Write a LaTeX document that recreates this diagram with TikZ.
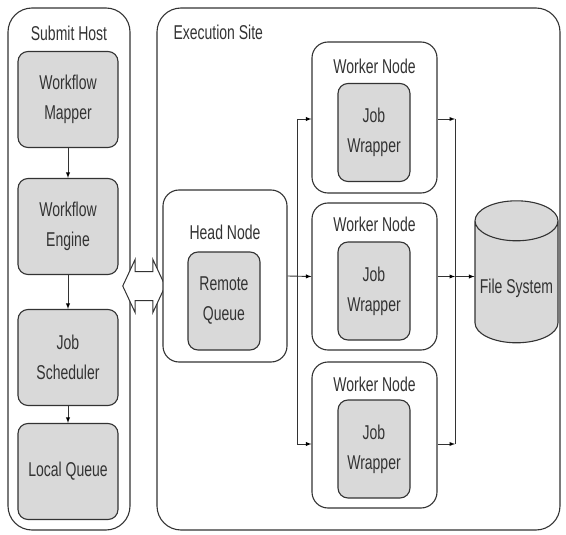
\documentclass[tikz,border=0pt]{standalone}
\usepackage{fontspec}
\setmainfont{Liberation Sans}[FakeStretch=0.7]
\usepackage{tikz}
\usetikzlibrary{arrows, shapes.geometric, shapes.arrows, positioning}
\definecolor{boxgray}{HTML}{D9D9D9}
\definecolor{linegray}{HTML}{333333}

\begin{document}
\begin{tikzpicture}[x=1pt, y=-1pt, >=latex,
        every node/.style={font=\fontsize{20}{30}\selectfont, text=linegray},
        frame/.style={draw=linegray, line width=1.1pt, rounded corners=24pt},
        holder/.style={draw=linegray, line width=1.1pt, rounded corners=16pt, fill=white},
        task/.style={draw=linegray, line width=1.1pt, rounded corners=10pt, fill=boxgray,
            align=center, minimum width=100pt, minimum height=96pt},
        inner/.style={task, minimum width=72pt, minimum height=98pt},
        flow/.style={draw=linegray, line width=0.9pt}]
                        \useasboundingbox (0, 0) rectangle (566, 535);
                        % the two sites
                        \node[frame, minimum width=122pt, minimum height=522pt] (submit) at (69, 269) {};
                        \node[frame, minimum width=403pt, minimum height=522pt] (site) at (358.5, 269) {};
                        \node (submitlbl) at (69, 33) {Submit Host};
                        \node[anchor=west] (sitelbl) at (170, 32) {Execution Site};
                        % submit host
                        \node[task] (mapper) at (68, 99.5) {Workflow\\Mapper};
                        \node[task] (engine) at (68, 226.5) {Workflow\\Engine};
                        \node[task] (sched) at (68, 357.5) {Job\\Scheduler};
                        \node[task] (lqueue) at (68, 471.5) {Local Queue};
                        \draw[flow]
                        (mapper) edge[->] (engine)
                        (engine) edge[->] (sched)
                        (sched) edge[->] (lqueue);
                        % link between the sites
                        \node[double arrow, draw=linegray, line width=1pt, fill=white, inner sep=14pt,
                            minimum height=38pt, double arrow head extend=12pt,
                            double arrow tip angle=130] (link) at (144, 286) {};
                        % execution site
                        \node[holder, minimum width=124pt, minimum height=172pt] (head) at (225, 276) {};
                        \node (headlbl) at (225, 232) {Head Node};
                        \node[inner] (rqueue) at (224, 301) {Remote\\Queue};
                        \node[holder, minimum width=125pt, minimum height=151pt] (w1) at (374.5, 117.5) {};
                        \node[holder, minimum width=125pt, minimum height=147pt] (w2) at (374.5, 276.5) {};
                        \node[holder, minimum width=125pt, minimum height=146pt] (w3) at (374.5, 435) {};
                        \node (w1lbl) at (374.5, 66) {Worker Node};
                        \node (w2lbl) at (374.5, 224) {Worker Node};
                        \node (w3lbl) at (374.5, 384) {Worker Node};
                        \node[inner] (jw1) at (374, 132.5) {Job\\Wrapper};
                        \node[inner] (jw2) at (374, 291) {Job\\Wrapper};
                        \node[inner] (jw3) at (374, 449) {Job\\Wrapper};
                        \node[cylinder, shape border rotate=90, aspect=6, draw=linegray, line width=1.1pt,
                            fill=boxgray, minimum width=83pt, minimum height=142pt] (fs) at (516.5, 286) {};
                        \node (fslbl) at (516.5, 288) {File System};
                        % buses
                        \coordinate (lt) at (297, 119);
                        \coordinate (lb) at (297, 444);
                        \coordinate (rt) at (455, 119);
                        \coordinate (rb) at (455, 444);
                        \draw[flow] (lt) -- (lb);
                        \draw[flow] (rt) -- (rb);
                        \draw[flow]
                        (head.east) edge[->] (w2.west)
                        (lt) edge[->] (lt -| w1.west)
                        (lb) edge[->] (lb -| w3.west)
                        (w1.east |- rt) edge[->] (rt)
                        (w2.east) edge[->] (w2.east -| rt)
                        (w3.east |- rb) edge[->] (rb)
                        (w2.east -| rt) edge[->] (fs.west |- w2.east);
                    \end{tikzpicture}
\end{document}
